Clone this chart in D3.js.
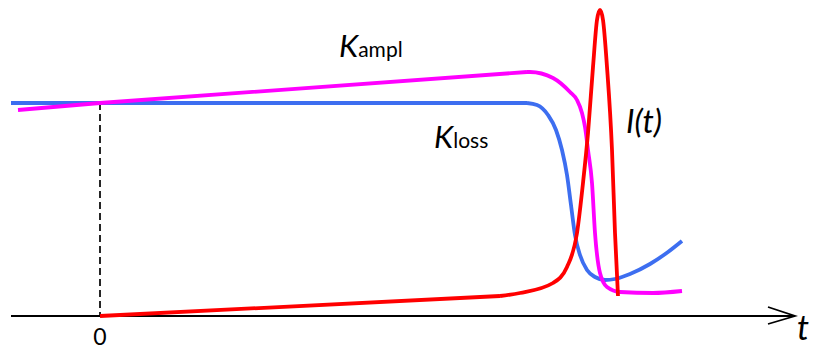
<!DOCTYPE html>
<html>
<head>
<meta charset="utf-8">
<script src="https://cdn.jsdelivr.net/npm/d3@7"></script>
<style>
  html, body { margin: 0; padding: 0; background: #fff; }
  svg { display: block; }
  text { font-family: Lato, "Open Sans", "DejaVu Sans", sans-serif; fill: #000; }
</style>
</head>
<body>
<svg id="chart" width="813" height="349"></svg>
<script>
// Loss coefficient K_loss(t)
const lossT = [-0.89, 0, 4.27, 4.37, 4.48, 4.56, 4.62, 4.67, 4.71, 4.75, 4.80, 4.87, 4.95, 5.05, 5.15, 5.30, 5.50, 5.68, 5.82];
const lossV = [213, 213, 213, 211, 201, 186, 166, 141, 111, 81, 61, 46, 39, 36, 37, 42, 52, 64, 75];

// Amplification coefficient K_ampl(t)
const amplT = [-0.82, 0, 4.27, 4.30, 4.53, 4.70, 4.77, 4.82, 4.85, 4.88, 4.92, 4.95, 5.00, 5.07, 5.20, 5.53, 5.82];
const amplV = [206, 213, 244, 244, 238, 224, 216, 203, 189, 166, 133, 83, 43, 29, 24, 23, 25];

// Radiation intensity I(t)
const intT = [0, 4.0, 4.2, 4.53, 4.67, 4.77, 4.83, 4.88, 4.93, 4.97, 5.00, 5.03, 5.07, 5.12, 5.15, 5.18];
const intV = [0, 20, 23, 33, 49, 83, 133, 183, 249, 296, 306, 296, 249, 166, 83, 20];

// Axis tick labels
const tickT = [0];
const tickLabels = ["0"];

const svg = d3.select("#chart");
const x = d3.scaleLinear().domain([-0.89, 6.95]).range([11, 795]);
const y = d3.scaleLinear().domain([0, 306]).range([316, 10]);

const straight = d3.line().x(d => x(d[0])).y(d => y(d[1]));
const smooth = d3.line().x(d => x(d[0])).y(d => y(d[1])).curve(d3.curveMonotoneX);

const zip = (a, b) => a.map((v, i) => [v, b[i]]);

// each curve: straight ramp up to index k, then a smooth transition
function drawCurve(ts, vs, k, color) {
  const pts = zip(ts, vs);
  const g = svg.append("g")
    .attr("fill", "none").attr("stroke", color)
    .attr("stroke-width", 3.8).attr("stroke-linejoin", "round");
  g.append("path").attr("d", straight(pts.slice(0, k + 1)));
  g.append("path").attr("d", smooth(pts.slice(k)));
}

// time axis with open arrowhead
const axisG = svg.append("g").attr("stroke", "#000").attr("stroke-width", 1.8).attr("fill", "none");
axisG.append("line")
  .attr("x1", x(-0.89)).attr("x2", x(6.95))
  .attr("y1", y(0)).attr("y2", y(0));
axisG.append("path")
  .attr("d", `M${x(6.95) - 27},${y(0) - 9} L${x(6.95)},${y(0)} L${x(6.95) - 27},${y(0) + 8}`);

// dashed marker at t = 0
svg.append("line")
  .attr("x1", x(0)).attr("x2", x(0))
  .attr("y1", y(213)).attr("y2", y(0))
  .attr("stroke", "#000").attr("stroke-width", 1.7)
  .attr("stroke-dasharray", "7,4");

svg.selectAll(".tick-label")
  .data(tickT)
  .enter().append("text")
  .attr("class", "tick-label")
  .attr("x", d => x(d))
  .attr("y", 345)
  .attr("text-anchor", "middle")
  .attr("font-size", 23)
  .text((d, i) => tickLabels[i]);

svg.append("text")
  .attr("x", 797).attr("y", 340)
  .attr("font-size", 34).attr("font-style", "italic")
  .text("t");

drawCurve(lossT, lossV, 2, "#3d6ef0");
drawCurve(amplT, amplV, 2, "#ff00ff");
drawCurve(intT, intV, 1, "#ff0000");

// curve labels
const kAmpl = svg.append("text").attr("x", 339).attr("y", 57);
kAmpl.append("tspan").attr("font-size", 31).attr("font-style", "italic").text("K");
kAmpl.append("tspan").attr("font-size", 21).text("ampl");

const kLoss = svg.append("text").attr("x", 434).attr("y", 148);
kLoss.append("tspan").attr("font-size", 31).attr("font-style", "italic").text("K");
kLoss.append("tspan").attr("font-size", 21).text("loss");

svg.append("text")
  .attr("x", 626).attr("y", 133)
  .attr("font-size", 32).attr("font-style", "italic")
  .text("I(t)");
</script>
</body>
</html>
